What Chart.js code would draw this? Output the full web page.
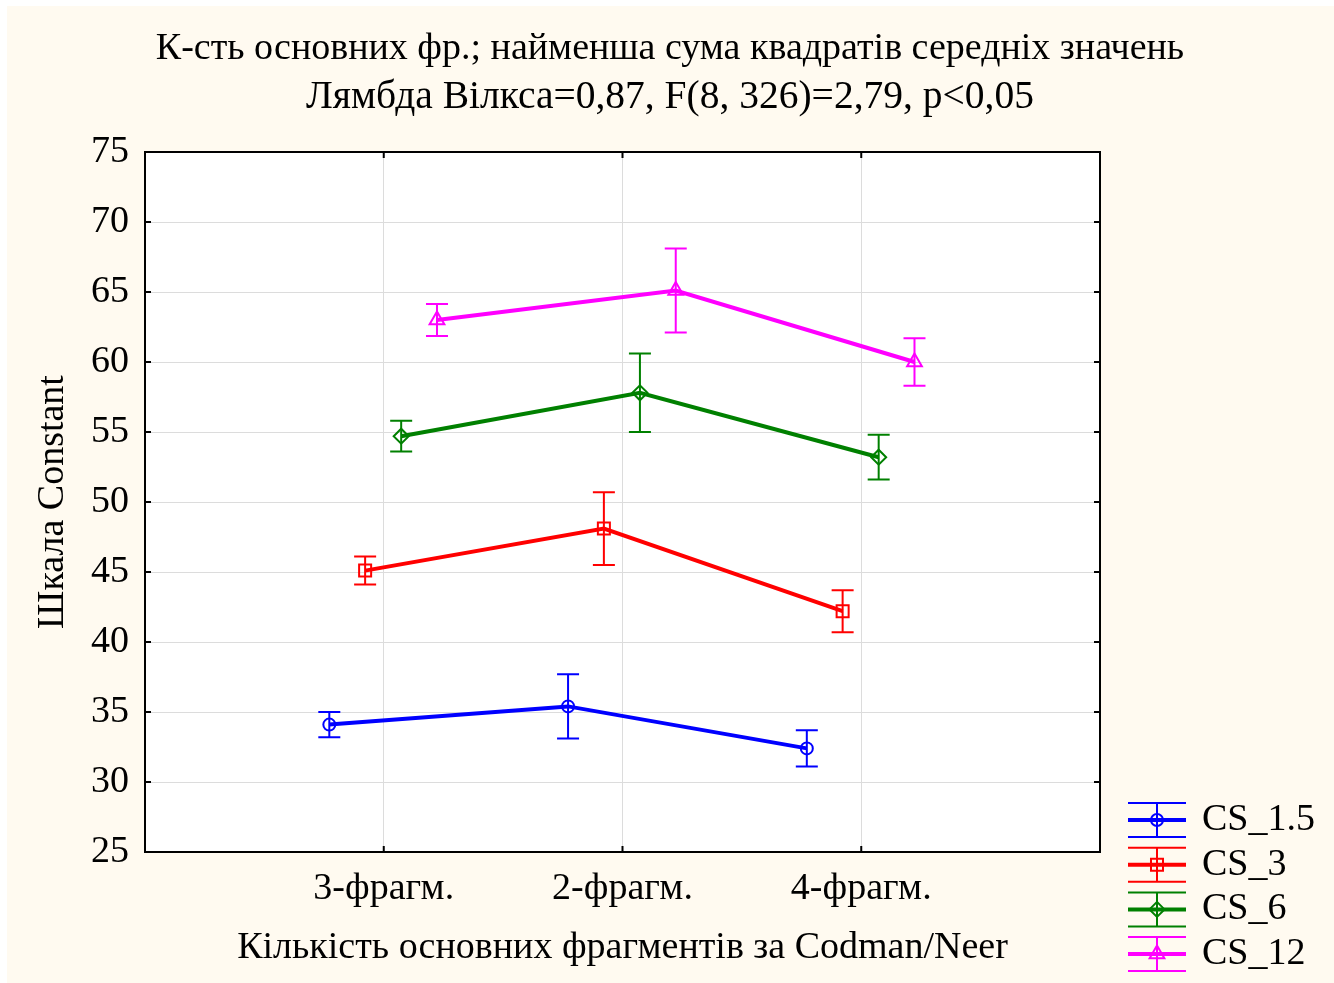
<!DOCTYPE html>
<html>
<head>
<meta charset="utf-8">
<title>Шкала Constant</title>
<script src="https://cdn.jsdelivr.net/npm/chart.js"></script>
<style>
    body {
        margin: 0;
        background-color: #fff;
    }
    #plot {
        display: block;
    }
</style>
</head>
<body>
<canvas id="plot" width="1334" height="983"></canvas>

<script>
// values
const categories = ['3-фрагм.', '2-фрагм.', '4-фрагм.'];
const seriesNames = ['CS_1.5', 'CS_3', 'CS_6', 'CS_12'];
const cs15 = [34.1, 35.4, 32.4];
const cs15Err = [0.9, 2.3, 1.3];
const cs3 = [45.1, 48.1, 42.2];
const cs3Err = [1.0, 2.6, 1.5];
const cs6 = [54.7, 57.8, 53.2];
const cs6Err = [1.1, 2.8, 1.6];
const cs12 = [63.0, 65.1, 60.0];
const cs12Err = [1.15, 3.0, 1.7];
const yTicks = [25, 30, 35, 40, 45, 50, 55, 60, 65, 70, 75];
const xTicks = [0, 1, 2, 3, 4];

const titleLines = [
    'К-сть основних фр.; найменша сума квадратів середніх значень',
    'Лямбда Вілкса=0,87, F(8, 326)=2,79, p<0,05'
];

const FONT = '"Liberation Serif", "Times New Roman", serif';
const colors = ['#0000ff', '#ff0000', '#008000', '#ff00ff'];
const styles = ['circle', 'rect', 'rectRot', 'triangle'];
const radii = [6, 8.5, 7.5, 8.5];
const dodge = [-0.228, -0.078, 0.073, 0.223]; // side-by-side shift of each group

const means = [cs15, cs3, cs6, cs12];
const errs = [cs15Err, cs3Err, cs6Err, cs12Err];

const datasets = means.map((vals, i) => ({
    label: seriesNames[i],
    data: vals.map((v, k) => ({ x: k + 1 + dodge[i], y: v, err: errs[i][k] })),
    showLine: true,
    borderColor: colors[i],
    borderWidth: 4,
    pointStyle: styles[i],
    pointRadius: radii[i],
    pointBorderWidth: 2,
    pointBorderColor: colors[i],
    pointBackgroundColor: 'rgba(0,0,0,0)',
    pointHoverRadius: radii[i]
}));

// background, white plot area
const backdrop = {
    id: 'backdrop',
    beforeDraw(chart) {
        const { ctx, chartArea: a } = chart;
        ctx.save();
        ctx.fillStyle = '#fffaf0';
        ctx.fillRect(7, 6, chart.width - 7, chart.height - 6);
        ctx.fillStyle = '#fff';
        ctx.fillRect(a.left, a.top, a.right - a.left, a.bottom - a.top);
        ctx.restore();
    }
};

// vertical error bars with caps
const errorBars = {
    id: 'errorBars',
    afterDatasetsDraw(chart) {
        const { ctx, scales: { x, y } } = chart;
        ctx.save();
        ctx.lineWidth = 2;
        chart.data.datasets.forEach((ds, i) => {
            ctx.strokeStyle = ds.borderColor;
            ds.data.forEach(p => {
                const px = x.getPixelForValue(p.x);
                const top = y.getPixelForValue(p.y + p.err);
                const bot = y.getPixelForValue(p.y - p.err);
                ctx.beginPath();
                ctx.moveTo(px, top); ctx.lineTo(px, bot);
                ctx.moveTo(px - 11, top); ctx.lineTo(px + 11, top);
                ctx.moveTo(px - 11, bot); ctx.lineTo(px + 11, bot);
                ctx.stroke();
            });
        });
        ctx.restore();
    }
};

// frame, inward ticks, title and legend
const decor = {
    id: 'decor',
    afterDraw(chart) {
        const { ctx, chartArea: a, scales: { x, y } } = chart;
        ctx.save();
        ctx.strokeStyle = '#000';
        ctx.lineWidth = 2;
        ctx.strokeRect(a.left, a.top, a.right - a.left, a.bottom - a.top);
        ctx.beginPath();
        xTicks.forEach(v => {
            const px = x.getPixelForValue(v);
            ctx.moveTo(px, a.bottom); ctx.lineTo(px, a.bottom - 6);
            ctx.moveTo(px, a.top); ctx.lineTo(px, a.top + 6);
        });
        yTicks.forEach(v => {
            const py = y.getPixelForValue(v);
            ctx.moveTo(a.left, py); ctx.lineTo(a.left + 6, py);
            ctx.moveTo(a.right, py); ctx.lineTo(a.right - 6, py);
        });
        ctx.stroke();

        ctx.fillStyle = '#000';
        ctx.textAlign = 'center';
        ctx.textBaseline = 'alphabetic';
        ctx.font = '38px ' + FONT;
        ctx.fillText(titleLines[0], 670, 59);
        ctx.font = '39.5px ' + FONT;
        ctx.fillText(titleLines[1], 670, 108);

        // legend
        ctx.font = '38px ' + FONT;
        chart.data.datasets.forEach((ds, i) => {
            const cy = 820 + i * 44.7;
            ctx.strokeStyle = ds.borderColor;
            ctx.lineWidth = 4;
            ctx.beginPath();
            ctx.moveTo(1128, cy); ctx.lineTo(1186, cy);
            ctx.stroke();
            ctx.lineWidth = 2;
            ctx.beginPath();
            ctx.moveTo(1128, cy - 17); ctx.lineTo(1186, cy - 17);
            ctx.moveTo(1128, cy + 17); ctx.lineTo(1186, cy + 17);
            ctx.moveTo(1157, cy - 17); ctx.lineTo(1157, cy + 17);
            ctx.stroke();
            ctx.fillStyle = 'rgba(0,0,0,0)';
            Chart.helpers.drawPoint(ctx, {
                pointStyle: ds.pointStyle, radius: ds.pointRadius, borderWidth: 2, rotation: 0
            }, 1157, cy);
            ctx.fillStyle = '#000';
            ctx.textAlign = 'left';
            ctx.textBaseline = 'middle';
            ctx.fillText(ds.label, 1202, cy);
        });
        ctx.restore();
    }
};

const axisFont = { family: FONT, size: 38 };

new Chart(document.getElementById('plot'), {
    type: 'scatter',
    data: { datasets: datasets },
    plugins: [backdrop, errorBars, decor],
    options: {
        responsive: false,
        animation: false,
        layout: { padding: { top: 152, right: 234, left: 0, bottom: 0 } },
        plugins: {
            legend: { display: false },
            title: { display: false },
            tooltip: { enabled: false }
        },
        scales: {
            x: {
                type: 'linear',
                min: 0,
                max: 4,
                afterBuildTicks(s) { s.ticks = xTicks.map(v => ({ value: v })); },
                afterFit(s) { s.height = 131; },
                ticks: {
                    autoSkip: false,
                    maxRotation: 0,
                    padding: 14,
                    color: '#000',
                    font: axisFont,
                    callback: v => categories[v - 1] || ''
                },
                grid: { color: '#dcdcdc', lineWidth: 1, drawTicks: false },
                border: { display: false },
                title: {
                    display: true,
                    text: 'Кількість основних фрагментів за Codman/Neer',
                    color: '#000',
                    font: axisFont,
                    padding: { top: 0, bottom: 12 }
                }
            },
            y: {
                min: 25,
                max: 75,
                afterBuildTicks(s) { s.ticks = yTicks.map(v => ({ value: v })); },
                afterFit(s) { s.width = 145; },
                ticks: { padding: 16, color: '#000', font: axisFont },
                grid: { color: '#dcdcdc', lineWidth: 1, drawTicks: false },
                border: { display: false },
                title: {
                    display: true,
                    text: 'Шкала Constant',
                    color: '#000',
                    font: axisFont,
                    padding: { top: 30, bottom: 0 }
                }
            }
        }
    }
});
</script>
</body>
</html>
